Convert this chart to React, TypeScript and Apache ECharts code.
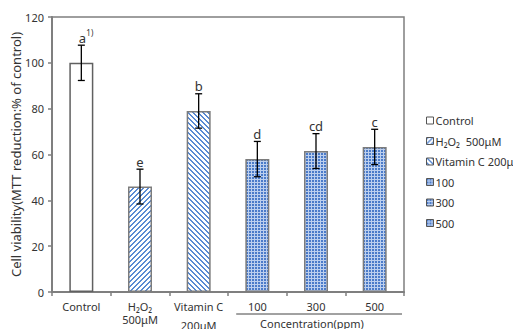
import React, { useEffect, useRef } from "react";
import * as echarts from "echarts";

const categories = ["Control", "H₂O₂\n500μM", "Vitamin C\n200μM", "100", "300", "500"];
const legendNames = ["Control", "H₂O₂  500μM", "Vitamin C 200μM", "100", "300", "500"];
const means = [100, 46, 79, 58, 61.5, 63.3];
const sds = [7.7, 7.6, 7.5, 7.7, 7.6, 7.7];
const letters = ["a", "e", "b", "d", "cd", "c"];
const superscripts = ["1)", "", "", "", "", ""];
const yTitle = "Cell viability(MTT reduction:% of control)";
const groupTitle = "Concentration(ppm)";

const FONT = "'Noto Sans', 'Open Sans', sans-serif";

function makeCanvas(w: number, h: number, paint: (x: number, y: number) => string) {
  const c = document.createElement("canvas");
  c.width = w;
  c.height = h;
  const ctx = c.getContext("2d")!;
  for (let y = 0; y < h; y++) {
    for (let x = 0; x < w; x++) {
      ctx.fillStyle = paint(x, y);
      ctx.fillRect(x, y, 1, 1);
    }
  }
  return c;
}

export default function App() {
  const ref = useRef<HTMLDivElement>(null);
  useEffect(() => {
    if (!ref.current) return;
    const chart = echarts.init(ref.current, null, { renderer: "svg" });

    const blue = "#5a8ad3";
    const fwd = makeCanvas(5, 5, (x, y) => ((x + y) % 5 < 2 ? blue : "#ffffff"));
    const back = makeCanvas(5, 5, (x, y) => (((x - y) % 5 + 5) % 5 < 2 ? blue : "#ffffff"));
    const dots = makeCanvas(3, 3, (x, y) => (x === 2 || y === 2 ? "#bccfee" : "#4b7bc9"));
    const pat = (c: HTMLCanvasElement) => ({ image: c, repeat: "repeat", imageWidth: c.width, imageHeight: c.height } as any);
    const fills: any[] = ["#ffffff", pat(fwd), pat(back), pat(dots), pat(dots), pat(dots)];

    const barSeries = legendNames.map((name, i) => ({
      type: "bar",
      name,
      data: means.map((v, j) => (j === i ? v : "-")),
      barWidth: 24,
      barGap: "-100%",
      itemStyle: { color: fills[i], borderColor: i === 0 ? "#606060" : "#7c7c7c", borderWidth: 1.5 },
      z: 2,
    }));

    const errSeries = {
      type: "custom",
      name: "err",
      z: 5,
      encode: { x: 0, y: 1 },
      data: means.map((m, i) => [i, m, sds[i]]),
      renderItem: (params: any, api: any) => {
        const i = api.value(0);
        const m = api.value(1);
        const s = api.value(2);
        const top = api.coord([i, m + s]);
        const bot = api.coord([i, m - s]);
        const cap = 3.5;
        const ls = { stroke: "#000", lineWidth: 1.3 };
        const children: any[] = [
          { type: "line", shape: { x1: top[0], y1: top[1], x2: bot[0], y2: bot[1] }, style: ls },
          { type: "line", shape: { x1: top[0] - cap, y1: top[1], x2: top[0] + cap, y2: top[1] }, style: ls },
          { type: "line", shape: { x1: bot[0] - cap, y1: bot[1], x2: bot[0] + cap, y2: bot[1] }, style: ls },
          {
            type: "text",
            x: top[0] + (superscripts[params.dataIndex] ? 1 : 0),
            y: top[1] - 1,
            style: {
              text: letters[params.dataIndex],
              fontSize: 13,
              fontFamily: FONT,
              fill: "#333",
              align: "center",
              verticalAlign: "bottom",
            },
          },
        ];
        if (superscripts[params.dataIndex]) {
          children.push({
            type: "text",
            x: top[0] + 5,
            y: top[1] - 9,
            style: {
              text: superscripts[params.dataIndex],
              fontSize: 8,
              fontFamily: FONT,
              fill: "#333",
              align: "left",
              verticalAlign: "bottom",
            },
          });
        }
        return { type: "group", children };
      },
    };

    chart.setOption({
      animation: false,
      backgroundColor: "#ffffff",
      textStyle: { fontFamily: FONT },
      grid: {
        left: 52,
        right: 109,
        top: 17,
        bottom: 37,
        outerBoundsMode: "none",
        containLabel: false,
        show: true,
        borderColor: "#7f7f7f",
        borderWidth: 1.5,
        backgroundColor: "transparent",
      },
      legend: {
        orient: "vertical",
        left: 421,
        top: 109,
        padding: 5,
        icon: "rect",
        itemWidth: 7,
        itemHeight: 7,
        itemGap: 7.5,
        data: legendNames,
        textStyle: { fontSize: 11, color: "#333", lineHeight: 13, fontFamily: FONT, padding: [0, 0, 0, -3] },
        itemStyle: { borderColor: "#555", borderWidth: 1 },
      },
      xAxis: {
        type: "category",
        data: categories,
        axisLine: { lineStyle: { color: "#7f7f7f", width: 2 } },
        axisTick: { show: true, length: 4, lineStyle: { color: "#7f7f7f", width: 1.5 } },
        axisLabel: {
          color: "#333",
          fontSize: 11,
          lineHeight: 13,
          margin: 8,
          interval: 0,
          hideOverlap: false,
          formatter: (v: string, idx: number) => {
            if (idx === 2) {
              const parts = v.split("\n");
              return "{a|" + parts[0] + "}\n{b|" + parts[1] + "}";
            }
            return v;
          },
          rich: {
            a: { fontSize: 11, lineHeight: 13, color: "#333", fontFamily: FONT },
            b: { fontSize: 11, lineHeight: 24, color: "#333", fontFamily: FONT },
          },
        },
      },
      yAxis: {
        type: "value",
        min: 0,
        max: 120,
        interval: 20,
        name: yTitle,
        nameLocation: "middle",
        nameGap: 30,
        nameMoveOverlap: false,
        nameTextStyle: { fontSize: 13, color: "#333", fontFamily: FONT },
        axisLine: { show: true, lineStyle: { color: "#7f7f7f", width: 2 } },
        axisTick: { show: true, length: 4, lineStyle: { color: "#7f7f7f", width: 1.5 } },
        axisLabel: { color: "#333", fontSize: 11, margin: 8 },
        splitLine: { show: false },
      },
      series: [...barSeries, errSeries],
    });

    const c3 = chart.convertToPixel({ xAxisIndex: 0 }, 3) as number;
    const c4 = chart.convertToPixel({ xAxisIndex: 0 }, 4) as number;
    const c5 = chart.convertToPixel({ xAxisIndex: 0 }, 5) as number;
    const catW = c4 - c3;
    const baseY = chart.convertToPixel({ yAxisIndex: 0 }, 0) as number;
    const lx0 = c3 - 0.36 * catW;
    const lx1 = c5 + 0.5 * catW - 2;
    chart.setOption({
      graphic: [
        {
          type: "line",
          shape: { x1: lx0, y1: baseY + 22, x2: lx1, y2: baseY + 22 },
          style: { stroke: "#444", lineWidth: 1 },
        },
        {
          type: "text",
          x: c4 - 4,
          y: baseY + 31,
          style: {
            text: groupTitle,
            fontSize: 11,
            fontFamily: FONT,
            fill: "#333",
            align: "center",
            verticalAlign: "middle",
          },
        },
      ],
    });

    return () => chart.dispose();
  }, []);
  return <div ref={ref} style={{ width: 513, height: 329, position: "absolute", left: 0, top: 0 }} />;
}
